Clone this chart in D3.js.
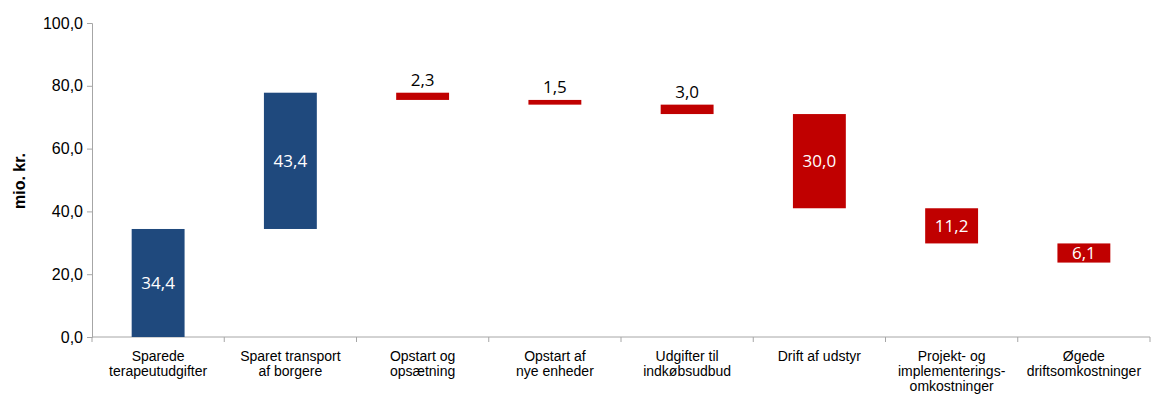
<!DOCTYPE html>
<html>
<head>
<meta charset="utf-8">
<script src="https://cdn.jsdelivr.net/npm/d3@7"></script>
<style>
  body { margin: 0; background: #fff; }
  svg { display: block; }
</style>
</head>
<body>
<div id="chart"></div>
<script>
// Categories, one array of lines per label
const categories = [
  ["Sparede", "terapeutudgifter"],
  ["Sparet transport", "af borgere"],
  ["Opstart og", "opsætning"],
  ["Opstart af", "nye enheder"],
  ["Udgifter til", "indkøbsudbud"],
  ["Drift af udstyr"],
  ["Projekt- og", "implementerings-", "omkostninger"],
  ["Øgede", "driftsomkostninger"]
];
// Signed changes (mio. kr.), positive = savings, negative = costs
const changes = [34.4, 43.4, -2.3, -1.5, -3.0, -30.0, -11.2, -6.1];
const valueLabels = ["34,4", "43,4", "2,3", "1,5", "3,0", "30,0", "11,2", "6,1"];
const yTicks = [0, 20, 40, 60, 80, 100];

const width = 1151, height = 394;
const margin = {top: 23, right: 1, bottom: 57, left: 92};

const svg = d3.select("#chart").append("svg")
  .attr("width", width)
  .attr("height", height);

const g = svg.append("g")
  .attr("transform", "translate(" + margin.left + "," + margin.top + ")");

const w = width - margin.left - margin.right;
const h = height - margin.top - margin.bottom;

// running totals for the floating bars
let run = 0;
const bars = changes.map(function(c, i) {
  const start = run;
  run += c;
  return {i: i, start: start, end: run, value: c};
});

const x = d3.scaleBand()
  .domain(d3.range(categories.length))
  .range([0, w])
  .paddingInner(0.6)
  .paddingOuter(0.3);

const y = d3.scaleLinear()
  .domain([0, 100])
  .range([h, 0]);

// Y axis
const yAxis = g.append("g")
  .call(d3.axisLeft(y).tickValues(yTicks).tickSize(5).tickPadding(4)
    .tickFormat(function(d) { return d3.format(".1f")(d).replace(".", ","); }));
yAxis.select(".domain").attr("stroke", "#a6a6a6");
yAxis.selectAll(".tick line").attr("stroke", "#a6a6a6");
yAxis.selectAll("text")
  .attr("font-family", "Liberation Sans, Arial, sans-serif")
  .attr("font-size", "16px")
  .attr("fill", "#000");

// X axis line with ticks at category boundaries
const step = x.step();
g.append("line")
  .attr("x1", 0).attr("x2", w)
  .attr("y1", h).attr("y2", h)
  .attr("stroke", "#a6a6a6");
g.selectAll(".xtick")
  .data(d3.range(categories.length + 1))
  .enter().append("line")
  .attr("x1", function(d) { return d * step; })
  .attr("x2", function(d) { return d * step; })
  .attr("y1", h).attr("y2", h + 5)
  .attr("stroke", "#a6a6a6");

// Category labels
const catText = g.selectAll(".cat")
  .data(categories)
  .enter().append("text")
  .attr("x", function(d, i) { return x(i) + x.bandwidth() / 2; })
  .attr("y", h + 24)
  .attr("text-anchor", "middle")
  .attr("font-family", "Liberation Sans, Arial, sans-serif")
  .attr("font-size", "14px")
  .attr("fill", "#000");
catText.each(function(lines) {
  const t = d3.select(this);
  const cx = t.attr("x");
  lines.forEach(function(line, k) {
    t.append("tspan").attr("x", cx).attr("dy", k === 0 ? 0 : 15).text(line);
  });
});

// Bars
g.selectAll(".bar")
  .data(bars)
  .enter().append("rect")
  .attr("x", function(d) { return x(d.i); })
  .attr("y", function(d) { return y(Math.max(d.start, d.end)); })
  .attr("width", x.bandwidth())
  .attr("height", function(d) { return Math.abs(y(d.start) - y(d.end)); })
  .attr("fill", function(d) { return d.value > 0 ? "#1f497d" : "#c00000"; });

// Value labels: inside for tall bars, above for thin ones
g.selectAll(".val")
  .data(bars)
  .enter().append("text")
  .attr("x", function(d) { return x(d.i) + x.bandwidth() / 2; })
  .attr("y", function(d) {
    const top = y(Math.max(d.start, d.end));
    const bot = y(Math.min(d.start, d.end));
    if (Math.abs(d.value) < 5) return top - 7;
    return (top + bot) / 2 + 6;
  })
  .attr("text-anchor", "middle")
  .attr("font-family", "Open Sans, sans-serif")
  .attr("font-size", "17px")
  .attr("fill", function(d) { return Math.abs(d.value) < 5 ? "#000" : "#fff"; })
  .text(function(d) { return valueLabels[d.i]; });

// Y axis title
svg.append("text")
  .attr("transform", "translate(25,181) rotate(-90)")
  .attr("text-anchor", "middle")
  .attr("font-family", "Liberation Sans, Arial, sans-serif")
  .attr("font-weight", "bold")
  .attr("font-size", "16px")
  .attr("fill", "#000")
  .text("mio. kr.");
</script>
</body>
</html>
